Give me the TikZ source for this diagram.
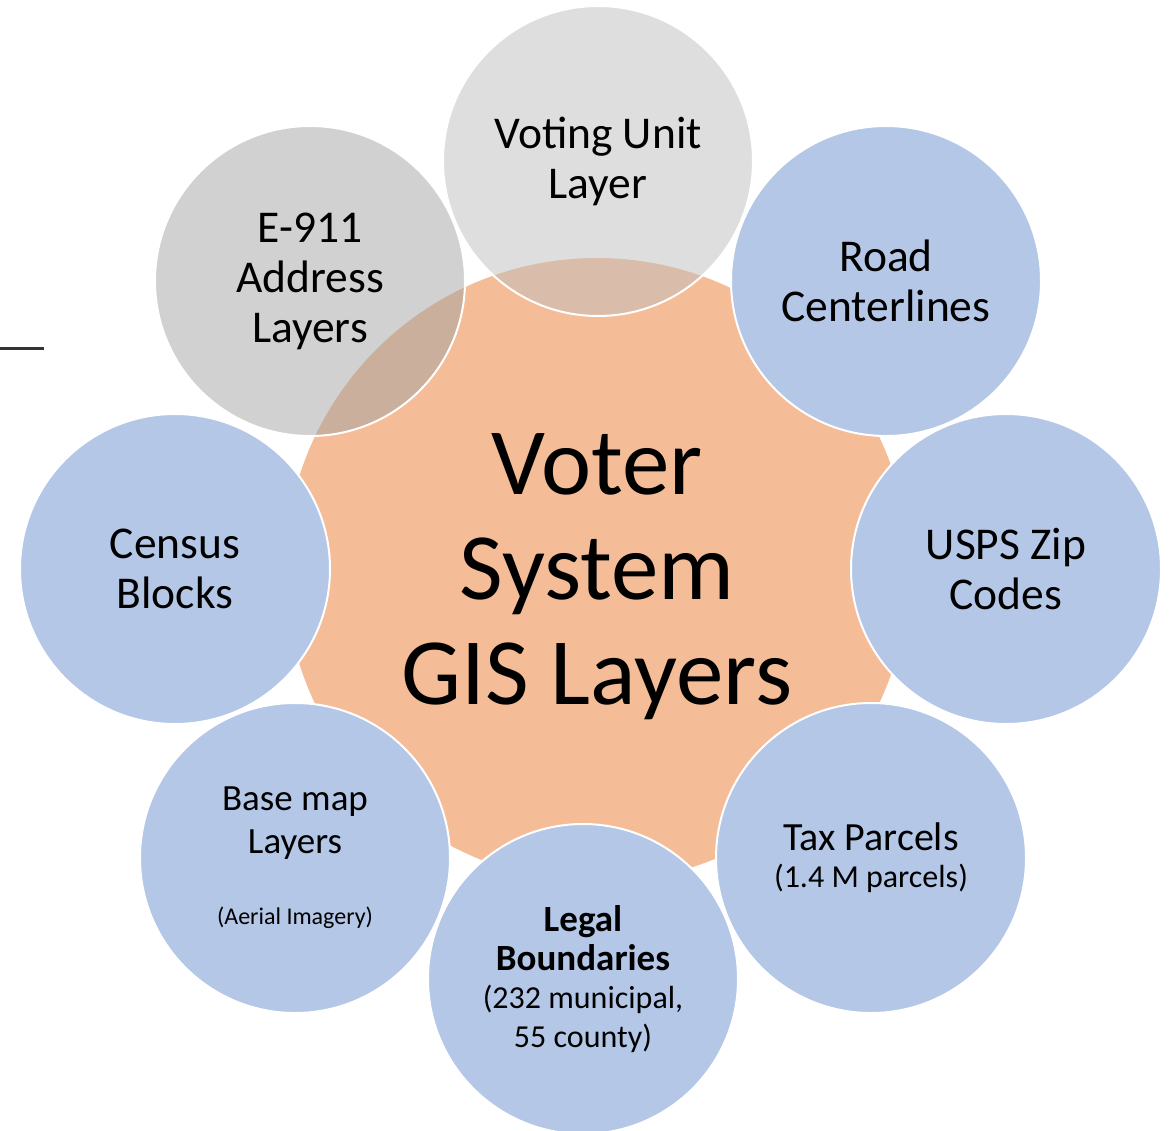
\documentclass[tikz,border=0pt]{standalone}
\usepackage{fontspec}
\setmainfont{Carlito}
\usepackage{tikz}

\definecolor{layerblue}{HTML}{B4C7E7}
\definecolor{hubfill}{HTML}{F5BD97}
\definecolor{greydark}{HTML}{A3A3A3}
\definecolor{greylight}{HTML}{BEBEBE}

\begin{document}
\begin{tikzpicture}
    [x=1pt,y=-1pt,
    layer/.style={circle,minimum size=310pt,inner sep=0pt,draw=white,line width=2pt,
        fill=layerblue,align=center,font=\fontsize{45.5}{50}\selectfont},
    grey layer/.style={layer,fill opacity=0.5,text opacity=1},
    hub/.style={circle,minimum size=624pt,inner sep=0pt,fill=hubfill},
    hub text/.style={align=center,font=\fontsize{95}{105}\selectfont}]

\useasboundingbox (0,0) rectangle (1174,1130);

%central disc
\node[hub] (hub) at (597,570) {};
\node[hub text] (voter) at (597,577) {Voter\\System\\GIS Layers};

%layers round the hub
\node[grey layer,fill=greylight] (voting) at (598,161) {Voting Unit\\Layer};
\node[grey layer,fill=greydark] (address) at (310,281) {E-911\\Address\\Layers};
\node[layer] (road) at (886,281) {Road\\Centerlines};
\node[layer] (zip) at (1006,569) {USPS Zip\\Codes};
\node[layer,font=\fontsize{40}{37}\selectfont] (parcels) at (871,858) {Tax Parcels\\
    {\fontsize{32}{37}\selectfont (1.4 M parcels)}};
\node[layer,font=\fontsize{32}{38.5}\selectfont] (legal) at (583,979) {{\fontsize{37}{38.5}\selectfont\bfseries Legal}\\
    {\fontsize{37}{38.5}\selectfont\bfseries Boundaries}\\(232 municipal,\\55 county)};
\node[layer,font=\fontsize{37}{43}\selectfont] (basemap) at (295,858) {Base map\\Layers\\[28pt]
    {\fontsize{24}{29}\selectfont (Aerial Imagery)}};
\node[layer] (census) at (175,569) {Census\\Blocks};

%stray rule at the left
\draw[line width=3pt,black!80] (0,348) -- (44,348);

\end{tikzpicture}
\end{document}
